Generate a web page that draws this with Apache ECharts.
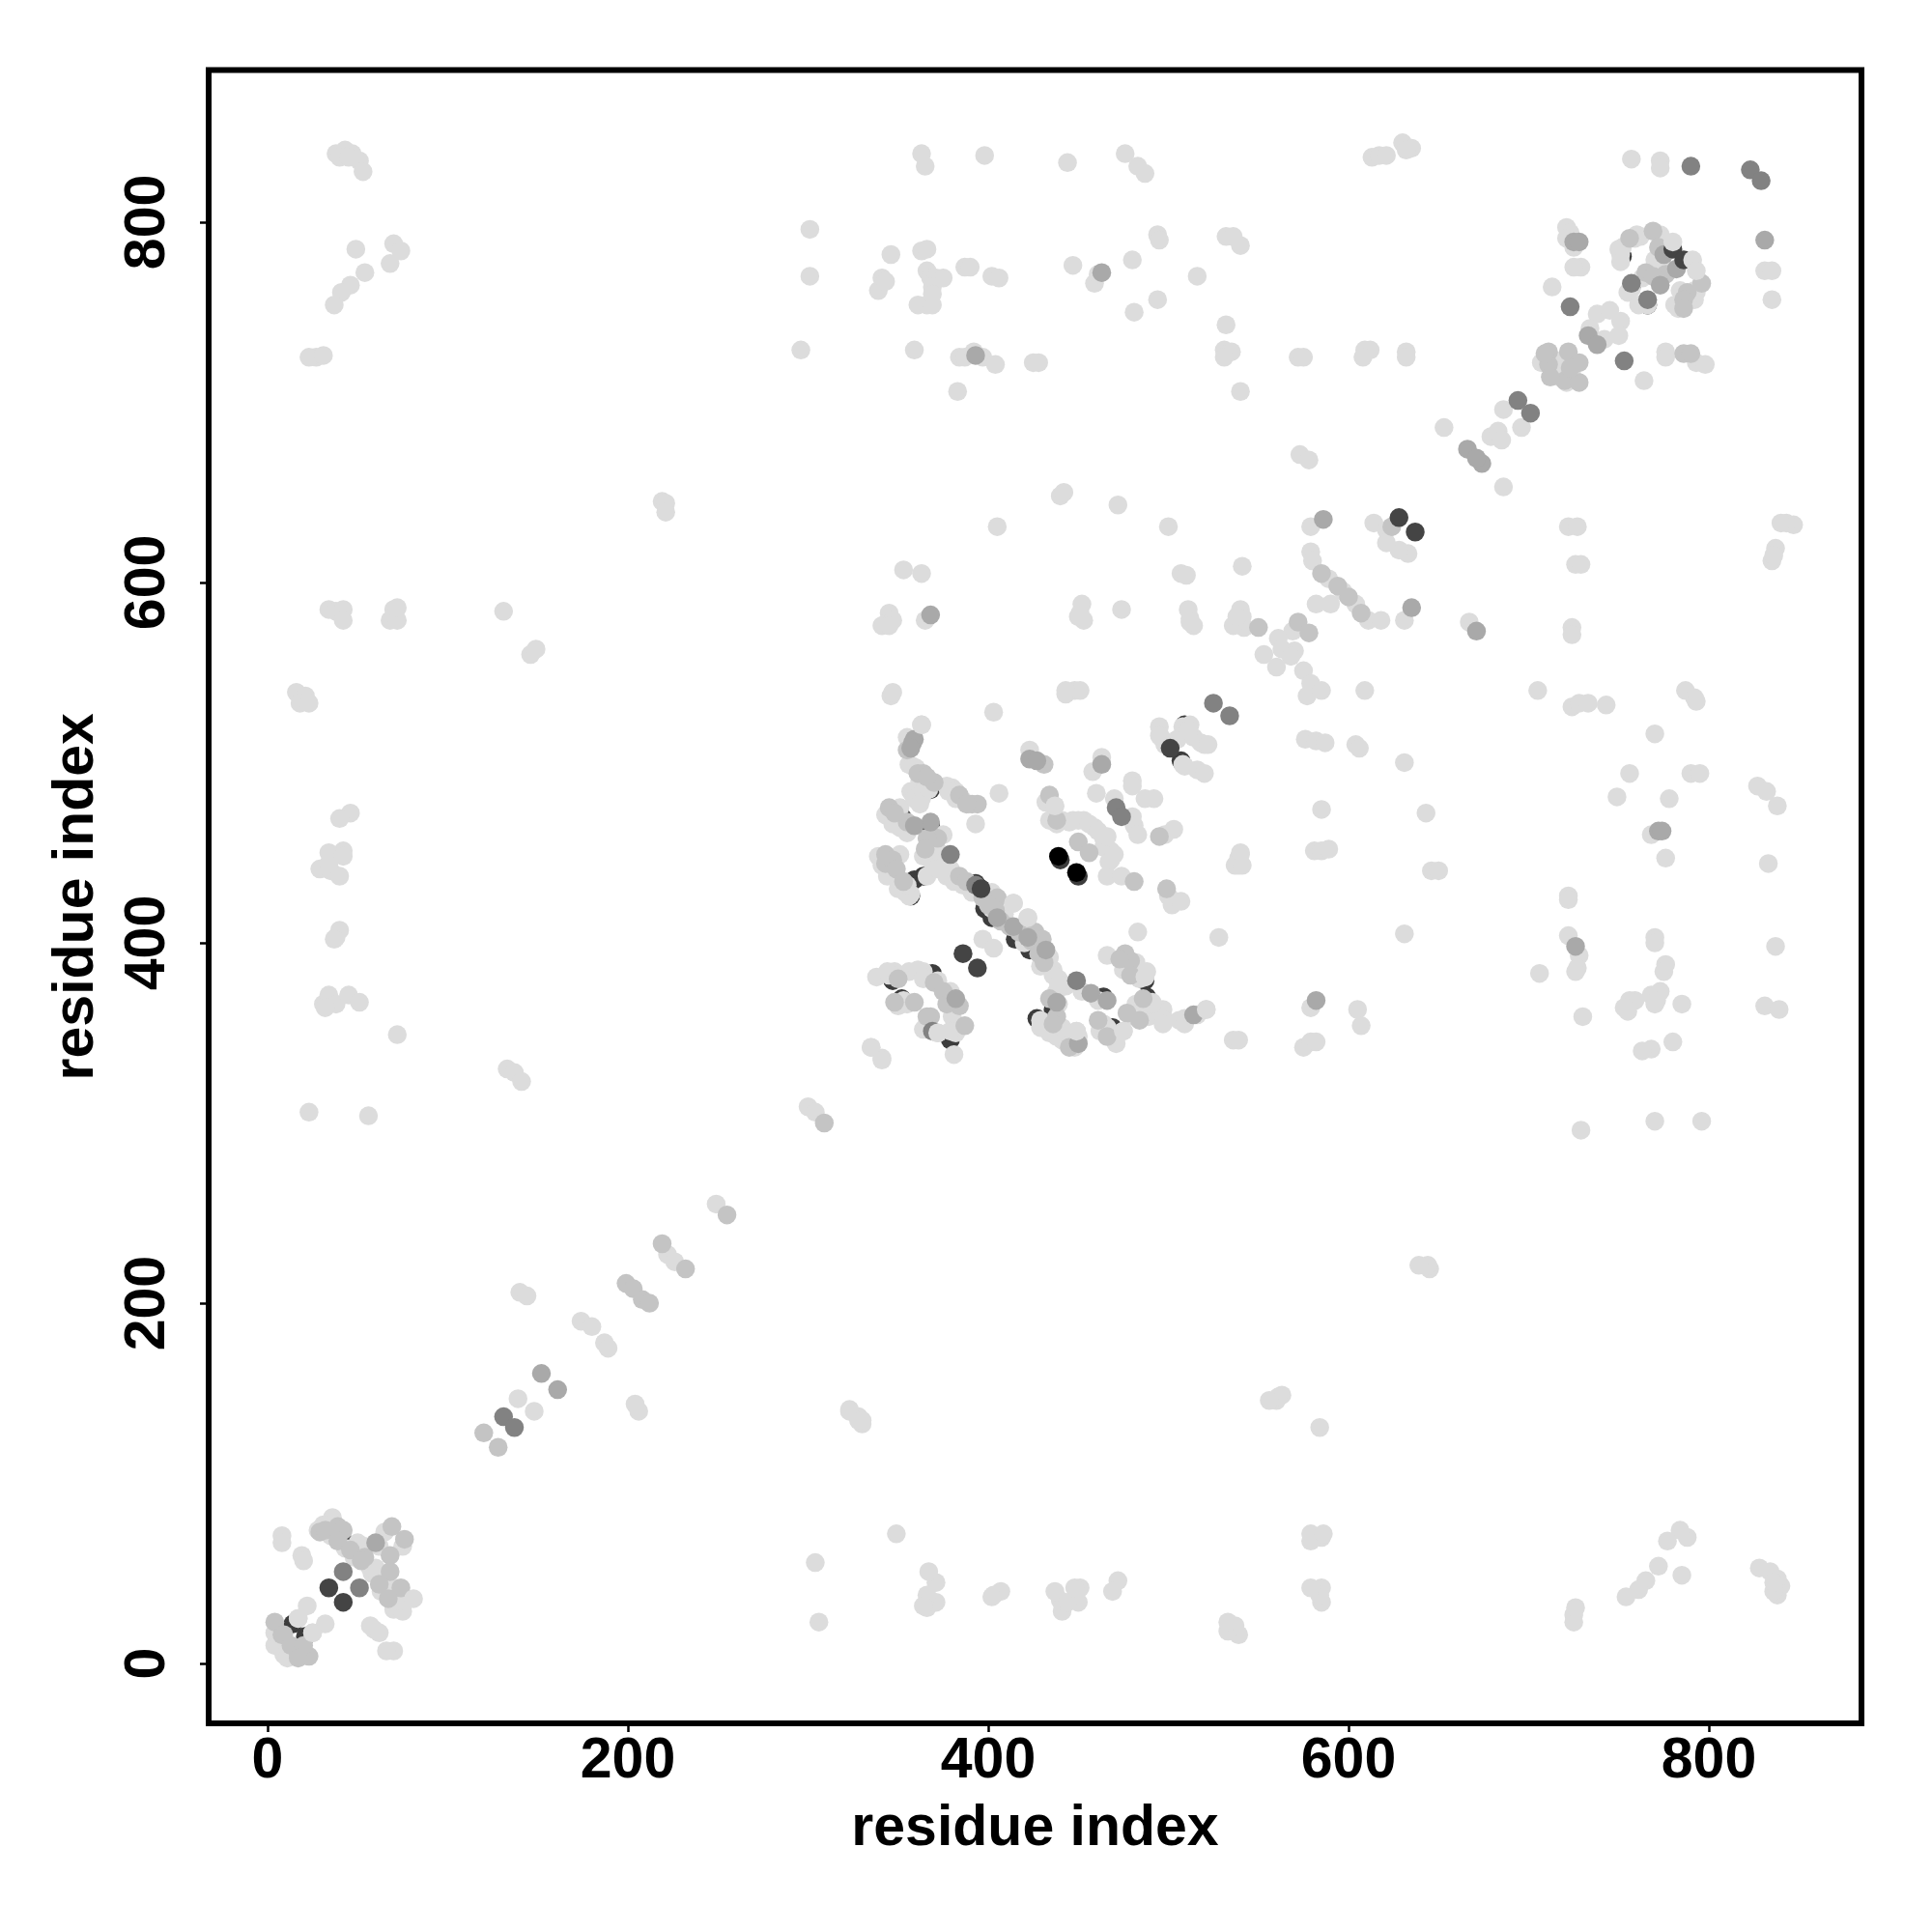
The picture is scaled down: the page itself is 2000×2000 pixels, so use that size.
<!DOCTYPE html>
<html>
<head>
<meta charset="utf-8">
<style>html,body{margin:0;padding:0;background:#fff}#c{width:2000px;height:2000px}</style>
<script src="https://cdn.jsdelivr.net/npm/echarts@6/dist/echarts.min.js"></script>
</head>
<body>
<div id="c"></div>
<script>
const tickValues = [0, 200, 400, 600, 800];
const axisTitle = "residue index";

const crescentPoints = [[352,470],[357,426],[359,435],[364,437],[368,465],[347,379],[352,369],[379,346],[369,383],[427,358],[436,363],[417,403],[425,396],[393,433],[396,430],[464,370],[469,353],[488,370],[487,379],[509,521],[507,501],[14,22],[21,15],[45,66],[752,781],[757,764],[766,754],[711,724],[368,485],[398,419],[402,414],[415,402],[423,396],[440,446],[450,437]];

const lightPoints = [
[38,838],[43,840],[47,838],[51,834],[53,828],[40,836],[45,836],[49,785],[54,772],[70,788],[74,784],[68,777],[46,765],[41,761],[37,754],[27,725],[23,725],[31,726],[34,585],[38,584],[42,585],[42,579],[70,585],[68,579],[72,579],[72,586],[16,539],[21,537],[18,533],[23,533],[46,472],[40,469],[42,451],[34,450],[29,441],[35,440],[40,437],[34,444],[42,448],[38,403],[40,407],[37,402],[31,366],[34,371],[38,366],[45,371],[51,367],[32,364],[72,349],[23,306],[56,304],[131,584],[146,560],[149,563],[133,330],[137,328],[141,323],[140,206],[144,204],[219,645],[221,644],[221,639],
[838,38],[840,43],[838,47],[834,51],[828,53],[836,40],[836,45],[785,49],[772,54],[788,70],[784,74],[777,68],[765,46],[761,41],[754,37],[725,27],[725,23],[726,31],[585,34],[584,38],[585,42],[579,42],[585,70],[579,68],[579,72],[586,72],[539,16],[537,21],[533,18],[533,23],[472,46],[469,40],[451,42],[450,34],[441,29],[440,35],[437,40],[444,34],[448,42],[403,38],[407,40],[402,37],[366,31],[371,34],[366,38],[371,45],[367,51],[364,32],[349,72],[306,23],[304,56],[584,131],[560,146],[563,149],[330,133],[328,137],[323,141],[206,140],[204,144],[645,219],[644,221],[639,221],
[296,729],[301,796],[301,770],[363,838],[365,831],[398,837],[444,833],[476,838],[483,831],[487,827],[613,836],[617,837],[621,837],[630,844],[635,841],[632,840],[757,835],[773,834],[773,830],[346,782],[341,769],[339,762],[343,767],[363,784],[366,785],[366,773],[368,769],[371,769],[375,769],[369,764],[361,754],[366,754],[369,754],[369,760],[387,775],[390,775],[402,770],[406,769],[359,729],[383,706],[384,725],[387,725],[392,728],[397,725],[404,721],[425,722],[428,722],[447,776],[459,766],[461,771],[480,779],[481,750],[494,793],[495,790],[494,757],[516,770],[532,792],[536,792],[540,787],[532,743],[531,729],[535,728],[531,725],[540,706],[572,725],[575,725],[609,729],[612,729],[608,725],[632,728],[632,725],[573,671],[578,668],[440,648],[442,650],[472,643],[405,631],[500,631],[507,605],[510,604],[541,609],[353,607],[363,605],[579,631],
[722,631],[727,631],[726,610],[729,610],[724,575],[724,571],[705,540],[724,531],[728,533],[733,533],[743,532],[787,540],[792,536],[793,534],[770,516],[756,494],[749,481],[778,480],[790,494],[795,494],[768,460],[776,447],[827,487],[832,484],[838,476],[833,444],[837,398],[831,365],[839,363],[847,632],[843,633],[840,633],[837,619],[835,612],[836,615],[831,773],[835,773],[835,757],[722,426],[722,424],[722,404],[728,393],[727,386],[726,384],[706,383],[730,359],[729,296],[770,403],[770,400],[776,388],[775,384],[768,371],[773,373],[771,368],[770,366],[759,368],[756,368],[753,364],[755,362],[785,366],[780,345],[768,341],[763,340],[770,301],[796,301],[576,513],[582,512],[587,511],[604,510],[606,508],[609,540],[631,500],[643,472],[646,440],[650,440],[631,405],[585,474],[581,451],[585,451],[589,452],[539,447],[540,449],[539,443],[528,403],[605,363],[607,354],[579,364],[536,346],[539,346],[575,342],[579,345],[582,345],[345,583],[343,577],[341,576],[347,579],[345,576],[365,579],[346,537],[347,539],[403,528],[443,538],[448,540],[451,540],[443,540],[452,588],[451,583],[453,579],[450,581],[474,585],[511,585],[512,580],[514,576],[512,578],[667,578],
[579,617],[580,612],[589,602],[597,595],[604,588],[611,579],[618,579],[582,588],[590,588],[575,551],[577,537],[579,544],[585,540],[569,573],[561,569],[570,562],[563,563],[568,559],[553,560],[560,553],[542,575],[540,585],[541,581],[536,576],[538,581],[495,520],[496,514],[508,520],[512,521],[505,513],[514,514],[520,510],[516,496],[520,494],[508,499],[511,518],[518,511],[522,510],[509,498],[498,510],[614,633],[621,629],[633,616],[628,618],[621,622],[631,579],
[174,190],[180,187],[187,178],[189,175],[139,147],[148,140],[222,227],[226,223],[249,255],[323,140],[328,135],[330,135],[561,148],[556,146],[300,309],[304,306],[335,342],[341,336],[653,686],[679,681],[683,684],[685,679],[686,696],[696,686],[686,653],
[721,797],[723,794],[721,791],[725,786],[729,775],[725,775],[713,764],[738,749],[745,751],[751,745],[750,737],[742,735],[734,741],[715,723],[764,712],[776,728],[776,725],[793,722],[798,721],[752,786],[751,782],[759,791],[762,792],[773,793],[771,776],[792,762],[792,757],[784,755],[783,752],[778,773],[757,763],[766,754],
[750,785],[751,778],[760,793],[774,778],[770,779],[763,769],[755,761],[761,754],[784,762],[781,754],[793,761],[707,722],[717,714],[721,711],[725,713],
[363,521],[356,499],[360,497],[360,484],[363,480],[380,486],[382,484],[386,479],[389,477],[406,483],[393,466],[347,470],[351,475],[355,462],[351,449],[348,437],[357,427],[366,437],[368,453],[373,450],[379,441],[402,428],[402,419],[409,416],[414,422],[422,414],[434,392],[429,387],[436,385],[439,380],[443,376],[452,373],[461,368],[438,373],[429,357],[434,353],[441,348],[449,351],[448,342],[444,344],[464,355],[470,348],[475,351],[466,393],[483,406],[482,385],[487,381],[484,363],[491,367],[497,363],[498,357],[509,358],[521,363],[338,381],[348,384],[356,384],[364,384],[372,379],[379,373],[382,350],[381,338],[366,355],[372,350],[353,368],[355,366],[335,342],[341,335],[397,402],[403,397],[437,476],[447,468],[453,468],[459,464],[464,458],[468,451],[467,445],[466,437],[474,437],[423,507],[463,503],[458,495],[460,483],[470,480],[480,490],[480,487],[480,470],[481,465],[483,460],[487,480],[492,480],[495,515],[498,460],[503,463],[500,426],[502,421],[507,423],[540,450],[537,443],[541,443],
[377,437],[381,434],[386,432],[391,428],[420,400],[436,382],[439,377],
[339,448],[341,443],[344,437],[350,430],[354,428],[356,426],[355,432],[343,471],[347,466],[351,464],[355,461],[368,446],[372,441],[375,460],[364,448],
[355,514],[358,498],[362,490],[357,484],[359,480],[364,484],[367,485],[362,477],[377,487],[382,480],[378,484],
[434,350],[429,353],[441,346],[450,348],[438,348],[441,353],[439,366],[462,351],[471,344],[466,353],
[481,359],[489,359],[493,364],[497,355],[482,366],[491,366],[475,385],[484,380],[488,384],[482,389],[506,357],[509,355],[516,360],
[441,468],[445,467],[450,468],[456,466],[461,462],[464,453],[468,446],[470,449],[466,459],[434,468],[432,478],[438,466],
[345,382],[344,384],[361,385],[364,380],[380,359],[379,351],[364,352],[350,365],
[8,71],[8,67],[19,60],[20,57],[36,81],[31,77],[37,72],[50,67],[54,65],[65,73],[75,65],[60,53],[58,50],[64,46],[70,42],[68,37],[71,31],[75,32],[22,32],[17,25],[25,17],[32,22],[4,17],[4,10],[9,5],[14,4],[59,19],[57,21],[62,17],[70,7],[66,7],
[28,74],[35,71],[43,64],[48,59],[57,53],[63,40],[70,30],[75,29],[66,48],[62,65],[73,35],[6,10],[11,6],[11,3]
];

const midLightPoints = [[120,128],[128,120],[199,211],[203,208],[208,202],[212,200],[219,233],[232,219],[255,249],[309,300],[624,631],[722,728],[728,722],[711,728],[711,721],[720,712],[728,711],[786,727],[790,727],[765,772],[796,766],[364,494],[370,489],[391,477],[394,477],[355,467],[372,458],[343,449],[343,444],[405,425],[426,406],[430,402],[384,365],[387,354],[368,359],[359,367],[434,482],[438,468],[481,434],[431,499],[476,394],[479,390],[495,459],[499,430],[29,73],[39,76],[42,74],[54,59],[69,76],[76,69],[68,60],[68,51],[74,42],[4,23],[8,16],[17,6],[23,4],[450,456],[456,450],
[397,425],[400,421],[404,418],[407,412],[412,409],[417,406],[424,401],[428,394],[431,389],[384,437],[388,434],
[347,446],[349,441],[353,434],[345,475],[348,472],[366,458],[365,452],[355,507],[361,494],[366,492],[384,482],[388,477],[434,369],[438,359],[436,355],[445,342],[461,357],[466,348],[477,361],[486,369],[484,357],[473,391],[479,382],[370,378],[375,373],[377,366],[366,359],[348,367],[350,380],
[32,74],[39,68],[46,63],[52,57],[62,44],[67,36],[9,16],[13,10],[20,10],[17,3],
[756,791],[769,795],[772,786],[776,771],[769,770],[788,761],[786,757],[786,752],[712,714],[723,719],[709,727],
[585,605],[594,598],[600,592],[607,583],[572,578],[578,572],[550,575]];

const midPoints = [[359,513],[358,511],[357,508],[368,467],[359,465],[405,414],[414,409],[422,403],[432,396],[457,372],[466,368],[438,367],[450,344],[514,360],[382,369],[423,502],[427,501],[463,499],[586,635],[635,586],[368,582],[582,368],[393,726],[726,398],[463,772],[772,462],[774,462],[831,790],[725,789],[728,789],[773,765],[782,774],[775,782],[733,737],[738,732],[666,674],[674,666],[671,669],[152,161],[161,152],[60,67],[671,573]];

const darkPoints = [[790,831],[823,829],[829,823],[723,753],[753,723],[757,766],[766,757],[131,137],[137,131],[694,701],[701,694],[525,533],[534,526],[449,379],[379,449],[471,475],[474,470],[42,51],[51,42],[369,351],[393,432]];

const nearBlackPoints = [[628,636],[637,628],[386,394],[394,386],[34,42],[42,34],[501,508],[780,785],[786,779],[396,430]];

const blackPoints = [[439,448],[449,439]];

const topLightPoints = [[780,789],[791,779],[793,773],[81,36],[437,476],[363,521],[372,350],[475,351],[521,363],[449,351],[487,381],[414,422],[422,414],[25,17],[17,25]];

const symbolDiameter = 19.5;
function layer(data, color) {
  return { type: "scatter", data: data, symbol: "circle", symbolSize: symbolDiameter,
    itemStyle: { color: color, opacity: 1 }, silent: true, animation: false };
}
const font = { fontFamily: "Liberation Sans", fontWeight: "bold", fontSize: 59, color: "#000" };
const chart = echarts.init(document.getElementById("c"), null, { renderer: "canvas" });
chart.setOption({
  animation: false,
  backgroundColor: "#fff",
  grid: { left: 216, top: 72.5, width: 1711, height: 1711.5, show: true, borderColor: "#000", borderWidth: 6, backgroundColor: "#fff" },
  xAxis: {
    type: "value", min: -32.7, max: 884.7, splitLine: { show: false }, axisLine: { show: false, onZero: false },
    axisTick: { show: true, length: 9, lineStyle: { color: "#000", width: 2.5 }, customValues: tickValues },
    axisLabel: Object.assign({ show: true, margin: 10, customValues: tickValues, formatter: v => String(v) }, font),
    name: axisTitle, nameLocation: "middle", nameGap: 80, nameTextStyle: font
  },
  yAxis: {
    type: "value", min: -33.2, max: 884.4, splitLine: { show: false }, axisLine: { show: false, onZero: false },
    axisTick: { show: true, length: 9, lineStyle: { color: "#000", width: 2.5 }, customValues: tickValues },
    axisLabel: Object.assign({ show: true, margin: 33, rotate: 90, customValues: tickValues, formatter: v => String(v) }, font),
    name: axisTitle, nameLocation: "middle", nameGap: 107, nameTextStyle: font
  },
  series: [
    layer(crescentPoints, "#3c3c3c"),
    layer(lightPoints, "#dcdcdc"),
    layer(midLightPoints, "#c4c4c4"),
    layer(midPoints, "#a9a9a9"),
    layer(darkPoints, "#828282"),
    layer(nearBlackPoints, "#444444"),
    layer(blackPoints, "#000000"),
    layer(topLightPoints, "#dcdcdc")
  ]
});
</script>
</body>
</html>
